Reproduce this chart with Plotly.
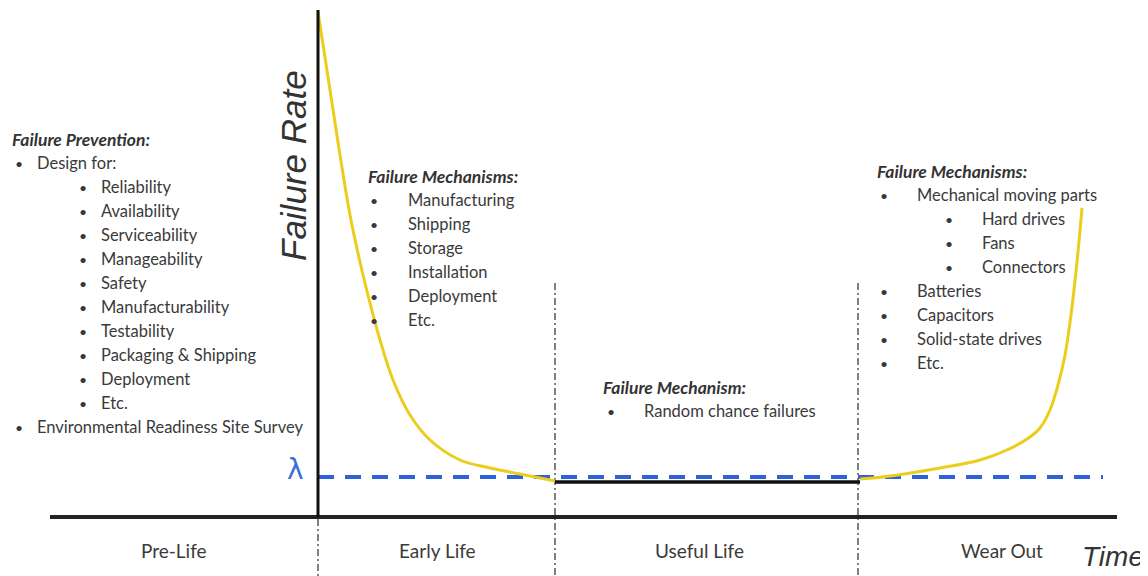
import plotly.graph_objects as go

# ---- data (time in px-like units, rate with 0 at the time axis) ----
early_time = [318, 330, 340, 350, 360, 370, 380, 393, 410, 430, 460, 490, 520, 555]
early_rate = [505, 427, 362, 302, 255, 214, 177, 137, 102, 77, 57, 49, 43, 36]
useful_time = [555, 860]
useful_rate = [35, 35]
wear_time = [860, 883, 940, 980, 1007, 1030, 1040, 1050, 1058, 1065, 1071, 1077, 1082]
wear_rate = [38, 40, 49, 57, 67, 80, 89, 107, 132, 162, 202, 255, 309]
lambda_rate = 40

phase_labels = ["Pre-Life", "Early Life", "Useful Life", "Wear Out"]
phase_centers = [174, 437, 699, 1002]
phase_bounds = [318, 555, 858]

prevention_title = "Failure Prevention:"
prevention_items = [
    (0, "Design for:"), (1, "Reliability"), (1, "Availability"), (1, "Serviceability"),
    (1, "Manageability"), (1, "Safety"), (1, "Manufacturability"), (1, "Testability"),
    (1, "Packaging & Shipping"), (1, "Deployment"), (1, "Etc."),
    (0, "Environmental Readiness Site Survey"),
]
early_title = "Failure Mechanisms:"
early_items = [(0, "Manufacturing"), (0, "Shipping"), (0, "Storage"), (0, "Installation"),
               (0, "Deployment"), (0, "Etc.")]
useful_title = "Failure Mechanism:"
useful_items = [(0, "Random chance failures")]
wear_title = "Failure Mechanisms:"
wear_items = [(0, "Mechanical moving parts"), (1, "Hard drives"), (1, "Fans"), (1, "Connectors"),
              (0, "Batteries"), (0, "Capacitors"), (0, "Solid-state drives"), (0, "Etc.")]

W, H = 1148, 576
OFF = 8     # page body margin
BASE = 517  # pixel row of the time axis


def ry(py):
    return BASE - py


fig = go.Figure()

fig.add_trace(go.Scatter(x=[318, 1103], y=[lambda_rate, lambda_rate], mode="lines",
                         line=dict(color="#2f62d8", width=4, dash="16px,11px"),
                         hoverinfo="skip", showlegend=False))
fig.add_trace(go.Scatter(x=early_time, y=early_rate, mode="lines",
                         line=dict(color="#eccd1c", width=3, shape="spline", smoothing=1.0),
                         hoverinfo="skip", showlegend=False))
fig.add_trace(go.Scatter(x=useful_time, y=useful_rate, mode="lines",
                         line=dict(color="#111111", width=3.5),
                         hoverinfo="skip", showlegend=False))
fig.add_trace(go.Scatter(x=wear_time, y=wear_rate, mode="lines",
                         line=dict(color="#eccd1c", width=3, shape="spline", smoothing=1.0),
                         hoverinfo="skip", showlegend=False))

shapes = []
sep_dash = "7px,3px,2px,3px"
shapes.append(dict(type="line", x0=318, x1=318, y0=ry(519), y1=ry(576), xref="x", yref="y",
                   line=dict(color="#555", width=1.5, dash=sep_dash)))
for xb in phase_bounds[1:]:
    shapes.append(dict(type="line", x0=xb, x1=xb, y0=ry(283), y1=ry(576), xref="x", yref="y",
                       line=dict(color="#555", width=1.5, dash=sep_dash), layer="below"))
shapes.append(dict(type="line", x0=50, x1=1117, y0=0, y1=0, xref="x", yref="y",
                   line=dict(color="#222", width=4)))
shapes.append(dict(type="line", x0=318, x1=318, y0=0, y1=ry(10), xref="x", yref="y",
                   line=dict(color="#111", width=3)))

ann = []
FONT = "Lato, Carlito, Open Sans, sans-serif"
TXT = "#3a3a3a"
FS = 16.5
STEP = 24


def block(title, items, x_title, py_title, x_b0, x_t0, x_b1, x_t1):
    ann.append(dict(x=x_title, y=ry(py_title), text="<b><i>" + title + "</i></b>", showarrow=False,
                    xanchor="left", yanchor="middle",
                    font=dict(family=FONT, size=17.5, color="#333")))
    for i, (lvl, t) in enumerate(items):
        py = py_title + STEP * (i + 1)
        xb = x_b0 if lvl == 0 else x_b1
        xt = x_t0 if lvl == 0 else x_t1
        ann.append(dict(x=xb, y=ry(py), text="•", showarrow=False, xanchor="left", yanchor="middle",
                        font=dict(family=FONT, size=14, color=TXT)))
        ann.append(dict(x=xt, y=ry(py), text=t, showarrow=False, xanchor="left", yanchor="middle",
                        font=dict(family=FONT, size=FS, color=TXT)))


block(prevention_title, prevention_items, 10, 139, 13, 35, 77, 99)
block(early_title, early_items, 366, 176, 368, 406, 368, 406)
block(useful_title, useful_items, 601, 387, 605, 642, 605, 642)
block(wear_title, wear_items, 875, 171, 878, 915, 943, 980)

for lab, cx in zip(phase_labels, phase_centers):
    ann.append(dict(x=cx, y=ry(550), text=lab, showarrow=False, xanchor="center", yanchor="middle",
                    font=dict(family=FONT, size=19, color=TXT)))

ann.append(dict(x=293, y=ry(166), text="<i>Failure Rate</i>", textangle=-90, showarrow=False,
                xanchor="center", yanchor="middle",
                font=dict(family="Liberation Sans, Arial, sans-serif", size=35, color="#333")))
ann.append(dict(x=1113, y=ry(556), text="<i>Time</i>", showarrow=False, xanchor="center",
                yanchor="middle",
                font=dict(family="Liberation Sans Narrow, Liberation Sans, sans-serif", size=28,
                          color="#333")))
ann.append(dict(x=295, y=ry(469), text="λ", showarrow=False, xanchor="center", yanchor="middle",
                font=dict(family="DejaVu Sans, sans-serif", size=28, color="#3b6fd9")))

fig.update_layout(
    width=W - OFF, height=H - OFF, margin=dict(l=0, r=0, t=0, b=0),
    paper_bgcolor="white", plot_bgcolor="white",
    xaxis=dict(range=[OFF, W], visible=False, fixedrange=True),
    yaxis=dict(range=[ry(H), ry(OFF)], visible=False, fixedrange=True),
    shapes=shapes, annotations=ann, showlegend=False,
)

fig.write_html("out.html", config={"displayModeBar": False})
